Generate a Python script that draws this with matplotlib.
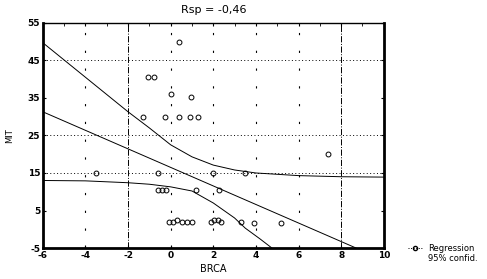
import matplotlib
matplotlib.use("Agg")
import matplotlib.pyplot as plt
import numpy as np

plt.rcParams["axes.unicode_minus"] = False

# scatter values
brca = [0.4, -1.05, -0.8, 0.0, 0.95,
        -1.3, -0.25, 0.4, 0.9, 1.3,
        -3.5, -0.6, 2.0, 3.5,
        -0.6, -0.4, -0.2, 1.2, 2.25,
        -0.1, 0.1, 0.3, 0.55, 0.75, 1.0, 1.9, 2.05, 2.2, 2.35, 3.3, 3.9, 5.2,
        7.4]
mit = [50, 40.5, 40.5, 36, 35.2,
       30, 30, 30, 30, 30,
       15, 15, 15, 15,
       10.5, 10.5, 10.5, 10.5, 10.5,
       2, 2, 2.5, 2, 2, 2, 2, 2.5, 2.5, 2, 2, 1.7, 1.7,
       20]

# regression line end points
reg_x = [-6, 8.7]
reg_y = [31.3, -5]

# 95% confidence band
up_x = [-6, -4, -2, -1, 0, 1, 2, 3, 4, 6, 8, 10]
up_y = [49.7, 40.5, 31.3, 27.0, 22.5, 19.3, 17.1, 15.8, 15.0, 14.3, 14.0, 13.9]
lo_x = [-6, -4, -2, -1, 0, 1, 2, 3, 3.5, 4.2, 4.75]
lo_y = [13.0, 12.9, 12.4, 12.0, 11.3, 10.2, 7.0, 3.0, 0.3, -2.6, -5]

fig = plt.figure(figsize=(4.87, 2.79), dpi=100)
ax = fig.add_axes([0.088, 0.111, 0.7, 0.807])

# grid lines
for yv in [45, 25, 15]:
    ax.axhline(yv, color="black", lw=0.7, ls=(0, (1, 2.5)), zorder=1)
for xv in [-4, 0, 2, 4, 6]:
    ax.axvline(xv, color="black", lw=0.8, ls=(0, (2, 14)), zorder=1)
for xv in [-2, 8]:
    ax.axvline(xv, color="black", lw=0.7, ls="-.", zorder=1)

ax.plot(reg_x, reg_y, color="black", lw=0.7)
ax.plot(up_x, up_y, color="black", lw=0.7)
ax.plot(lo_x, lo_y, color="black", lw=0.7)
ax.plot(brca, mit, "o", mfc="none", mec="black", ms=3.5, mew=0.7)

ax.set_xlim(-6, 10)
ax.set_ylim(-5, 55)
ax.set_xticks(np.arange(-6, 11, 2))
ax.set_yticks(np.arange(-5, 56, 10))
ax.set_xticks(np.arange(-6, 11, 1), minor=True)
ax.tick_params(axis="both", labelsize=6.5, length=2, width=0.8, pad=2)
ax.tick_params(top=True, right=True, which="both", direction="in")
ax.tick_params(which="minor", length=2, bottom=False)
for lab in ax.get_xticklabels() + ax.get_yticklabels():
    lab.set_fontweight("bold")

for side, w in [("left", 2), ("bottom", 2), ("right", 2), ("top", 1)]:
    ax.spines[side].set_linewidth(w)

ax.set_title("Rsp = -0,46", fontsize=8, pad=7)
ax.set_xlabel("BRCA", fontsize=7, va="center")
ax.set_ylabel("MIT", fontsize=6, va="center")
ax.xaxis.set_label_coords(0.5, -0.095)
ax.yaxis.set_label_coords(-0.097, 0.5)

# legend at lower right, outside the axes
leg_h1, = ax.plot([], [], "o", ls=":", mfc="none", mec="black", color="black", ms=3, lw=0.7)
leg_h2, = ax.plot([], [], color="black", lw=0.0)
ax.legend([leg_h1, leg_h2], ["Regression", "95% confid."], loc="lower left",
          bbox_to_anchor=(1.05, -0.1), frameon=False, fontsize=6,
          handlelength=1.6, handletextpad=0.8, labelspacing=0.1)

fig.savefig("out.png", dpi=100)
